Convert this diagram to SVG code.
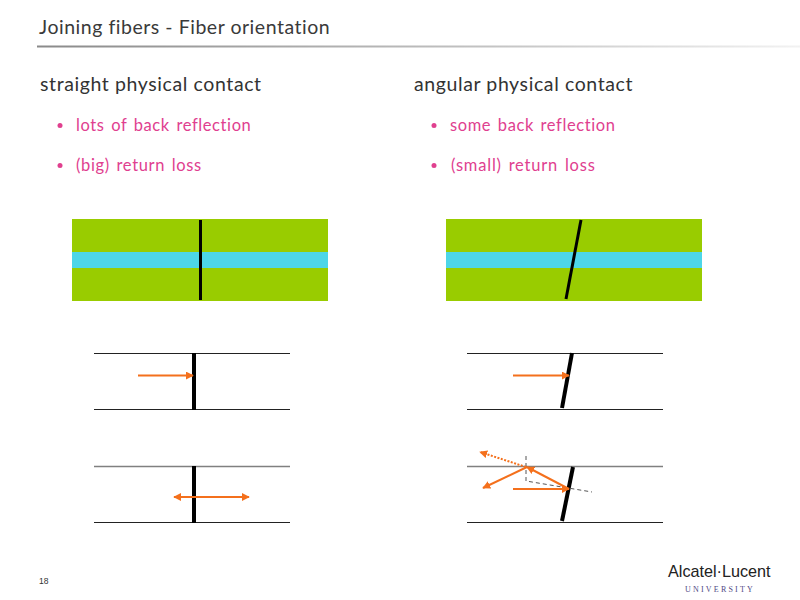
<svg xmlns="http://www.w3.org/2000/svg" width="800" height="600" viewBox="0 0 800 600">
<defs>
<linearGradient id="rule" x1="0" x2="1" y1="0" y2="0"><stop offset="0" stop-color="#8a8a8a"/><stop offset="0.6" stop-color="#c4c4c4"/><stop offset="1" stop-color="#f2f2f2"/></linearGradient>
<marker id="ah" viewBox="0 0 10 10" refX="9" refY="5" markerWidth="8" markerHeight="8" markerUnits="userSpaceOnUse" orient="auto-start-reverse"><path d="M0 0L10 5L0 10Z" fill="#f4701c"/></marker>
</defs>
<style>
text{font-family:"Lato","Open Sans",sans-serif}
.title{font-size:19.5px;fill:#3a3a3a;letter-spacing:.53px}
.head{font-size:19.5px;fill:#333;letter-spacing:.6px}
.item{font-size:16.5px;fill:#e0408f;letter-spacing:.6px;word-spacing:1.8px}
.green{fill:#99cc00}.cyan{fill:#4dd6e8}
.core{stroke:#000;stroke-width:3;fill:none}
.cut{stroke:#000;stroke-width:4;fill:none}
.wall{stroke:#222;stroke-width:1.2;fill:none}
.wallg{stroke:#808080;stroke-width:1.4;fill:none}
.ray{stroke:#f4701c;stroke-width:2;fill:none;marker-end:url(#ah)}
.dot{stroke:#f4701c;stroke-width:2;fill:none;stroke-dasharray:2 1.5;marker-end:url(#ah)}
.dash{stroke:#555;stroke-width:1;fill:none;stroke-dasharray:4 3}
.bullet{fill:#e0408f}
</style>
<g id="header">
<text class="title" x="39" y="34">Joining fibers - Fiber orientation</text>
<rect x="37" y="45.500" width="763" height="2" fill="url(#rule)"/>
</g>
<g id="left-text">
<text class="head" x="40" y="91">straight physical contact</text>
<circle class="bullet" cx="60" cy="125.500" r="2.500"/>
<text class="item" x="76" y="131">lots of back reflection</text>
<circle class="bullet" cx="60" cy="165.500" r="2.500"/>
<text class="item" x="76" y="171" style="letter-spacing:.65px">(big) return loss</text>
</g>
<g id="right-text">
<text class="head" x="414" y="91">angular physical contact</text>
<circle class="bullet" cx="434" cy="125.500" r="2.500"/>
<text class="item" x="450" y="131">some back reflection</text>
<circle class="bullet" cx="434" cy="165.500" r="2.500"/>
<text class="item" x="451" y="171" style="letter-spacing:.8px">(small) return loss</text>
</g>
<g id="fiber-straight">
<rect class="green" x="72" y="219" width="256" height="82"/>
<rect class="cyan" x="72" y="252" width="256" height="16"/>
<path class="core" d="M200.500 220V300"/>
</g>
<g id="fiber-angled">
<rect class="green" x="446" y="219" width="256" height="82"/>
<rect class="cyan" x="446" y="252" width="256" height="16"/>
<path class="core" d="M581 220L566 299"/>
</g>
<g id="straight-incident">
<path class="wall" d="M94 353.500H290M94 409.500H290"/>
<path class="cut" d="M194 353V410"/>
</g>
<g id="straight-reflected">
<path class="wallg" d="M94 466.500H290"/><path class="wall" d="M94 522.500H290"/>
<path class="cut" d="M194 466V523"/>
</g>
<g id="angled-incident">
<path class="wall" d="M467 353.500H663M467 409.500H663"/>
<path class="cut" d="M572 353L562 408"/>
</g>
<g id="angled-reflected">
<path class="wallg" d="M467 466.500H663"/><path class="wall" d="M467 522.500H663"/>
<path class="cut" d="M573 467L562 521"/>
<path class="dash" d="M526 456V481L592 492"/>
</g>
<g id="connectors">
<path class="ray" d="M138 375.500H193"/>
<path class="ray" d="M194 497H174"/>
<path class="ray" d="M194 497H249"/>
<path class="ray" d="M513 375.500H569"/>
<path class="ray" d="M513 489H569"/>
<path class="ray" d="M569 489L527 467"/>
<path class="ray" d="M527 467L483 488"/>
<path class="dot" d="M526 467L480 452"/>
</g>
<g id="footer">
<text x="39" y="584" font-size="8.500" fill="#333" style="font-family:'Liberation Sans',sans-serif">18</text>
<text x="668" y="577" font-size="16.200" fill="#222" style="font-family:'Liberation Sans',sans-serif">Alcatel·Lucent</text>
<text x="685" y="592" font-size="8" fill="#4f4a85" letter-spacing="2.200" style="font-family:'Liberation Serif',serif">UNIVERSITY</text>
</g>
</svg>
